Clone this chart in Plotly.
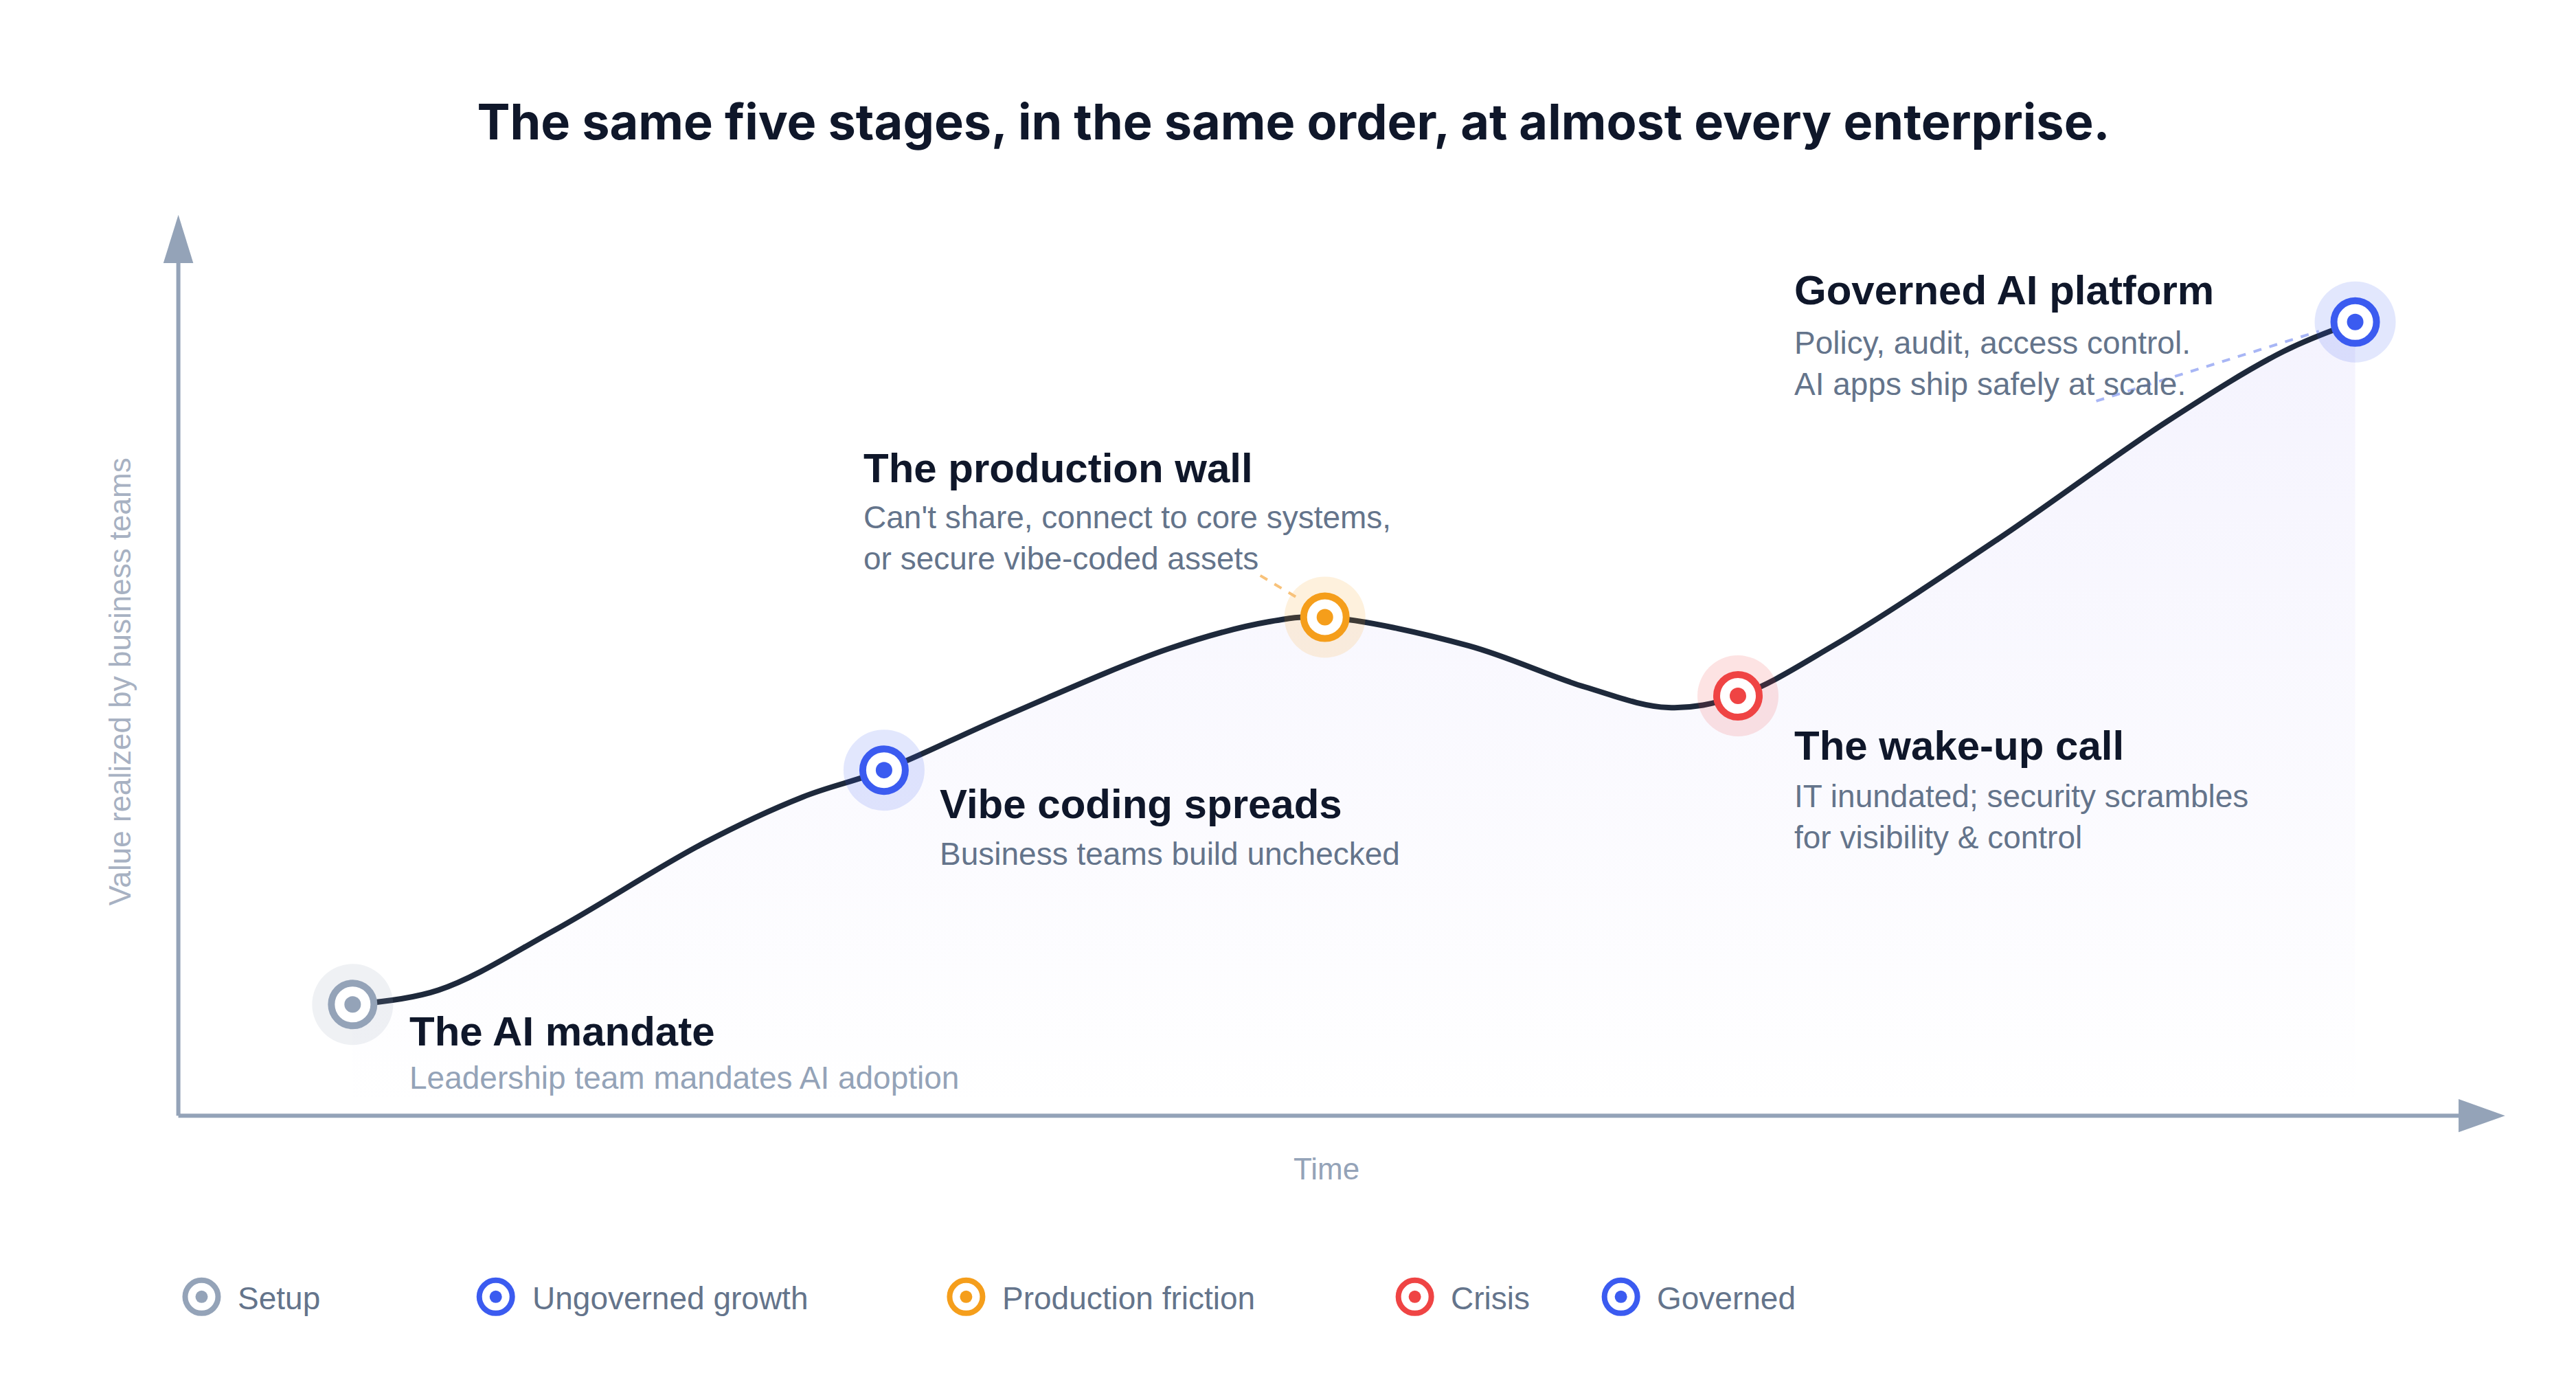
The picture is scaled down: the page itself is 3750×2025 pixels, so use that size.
import plotly.graph_objects as go

# ---- data ----
stage_names = ["The AI mandate", "Vibe coding spreads", "The production wall", "The wake-up call", "Governed AI platform"]
stage_desc = ["Leadership team mandates AI adoption", "Business teams build unchecked",
              "Can't share, connect to core systems,<br>or secure vibe-coded assets",
              "IT inundated; security scrambles<br>for visibility & control",
              "Policy, audit, access control.<br>AI apps ship safely at scale."]
stage_x = [7.5, 30.4, 49.4, 67.2, 93.8]
stage_y = [12.5, 38.7, 55.8, 47.0, 88.8]
stage_cat = ["Setup", "Ungoverned growth", "Production friction", "Crisis", "Governed"]
cat_colors = ["#94A3B8", "#3B5BF0", "#F59E1B", "#EF4444", "#3B5BF0"]
curve_x = [7.5, 11.2, 16.2, 22.6, 26.9, 30.4, 35.5, 42.7, 47.0, 49.4, 55.6, 60.6, 64.2, 67.2, 71.3, 78.5, 85.7, 90.7, 93.8]
curve_y = [12.5, 14.1, 20.8, 30.5, 35.7, 38.7, 44.6, 52.3, 55.3, 55.8, 52.6, 48.0, 45.7, 47.0, 52.6, 64.7, 77.7, 85.5, 88.8]

W, H = 3750, 2025
L, R, T, B = 252, 120, 315, 408

def halo(c, a):
    c = c.lstrip("#")
    return "rgba(%d,%d,%d,%s)" % (int(c[0:2], 16), int(c[2:4], 16), int(c[4:6], 16), a)

# display-pixel (1550-wide reference) -> data coordinate helper for layout placement
def px(X, Y):
    return ((X - 104) / 13.96, (668 - Y) / 5.38)

# display-pixel -> paper coordinates
def pp(X, Y):
    return ((X * 2.4194 - L) / (W - L - R), ((H - Y * 2.4194) - B) / (H - T - B))

fig = go.Figure()
fig.add_trace(go.Scatter(x=curve_x, y=curve_y, mode="lines", line=dict(color="#1E293B", width=8, shape="spline", smoothing=1.0),
                         fill="tozeroy",
                         fillgradient=dict(type="vertical", colorscale=[[0, "rgba(124,108,240,0.0)"], [1, "rgba(124,108,240,0.08)"]]),
                         hoverinfo="skip", showlegend=False))
fig.add_trace(go.Scatter(x=stage_x, y=stage_y, mode="markers",
                         marker=dict(size=118, color=[halo(c, 0.15) for c in cat_colors], line=dict(width=0)),
                         showlegend=False, hoverinfo="skip", cliponaxis=False))
fig.add_trace(go.Scatter(x=stage_x, y=stage_y, mode="markers",
                         marker=dict(size=62, color="white", line=dict(width=10, color=cat_colors)),
                         showlegend=False, cliponaxis=False, text=stage_names))
fig.add_trace(go.Scatter(x=stage_x, y=stage_y, mode="markers",
                         marker=dict(size=24, color=cat_colors, line=dict(width=0)),
                         showlegend=False, hoverinfo="skip", cliponaxis=False))

ann = []
shapes = []
leg_px = [118, 295, 578, 848, 972]
for X, name, col in zip(leg_px, stage_cat, cat_colors):
    cx, cy = pp(X, 777)
    shapes.append(dict(type="circle", xref="paper", yref="paper", xsizemode="pixel", ysizemode="pixel",
                       xanchor=cx, yanchor=cy, x0=-24, x1=24, y0=-24, y1=24,
                       fillcolor="white", line=dict(color=col, width=8)))
    shapes.append(dict(type="circle", xref="paper", yref="paper", xsizemode="pixel", ysizemode="pixel",
                       xanchor=cx, yanchor=cy, x0=-9, x1=9, y0=-9, y1=9,
                       fillcolor=col, line=dict(width=0)))
    x, y = pp(X + 21, 778)
    ann.append(dict(xref="paper", yref="paper", x=x, y=y, text=name, showarrow=False, xanchor="left", yanchor="middle",
                    font=dict(size=46, color="#64748B", family="Liberation Sans, Arial")))

title_pos = [(242, 617), (561, 480), (515, 278), (1075, 445), (1075, 171)]
desc_pos = [(242, 645), (561, 510), (515, 320), (1075, 488), (1075, 215)]
for i in range(5):
    x, y = px(*title_pos[i])
    ann.append(dict(x=x, y=y, text="<b>%s</b>" % stage_names[i], showarrow=False, xanchor="left", yanchor="middle",
                    font=dict(size=60, color="#0F172A", family="Liberation Sans, Arial")))
    x, y = px(*desc_pos[i])
    ann.append(dict(x=x, y=y, text=stage_desc[i], showarrow=False, xanchor="left", yanchor="middle", align="left",
                    font=dict(size=46, color="#94A3B8" if i == 0 else "#64748B", family="Liberation Sans, Arial")))

x, y = pp(795, 711)
ann.append(dict(xref="paper", yref="paper", x=x, y=y, text="Time", showarrow=False,
                font=dict(size=44, color="#94A3B8", family="Liberation Sans, Arial")))
x, y = pp(58, 407)
ann.append(dict(xref="paper", yref="paper", x=x, y=y, text="Value realized by business teams", showarrow=False, textangle=-90,
                font=dict(size=44, color="#A7B1C2", family="Liberation Sans, Arial")))

def pline(p0, p1, color, width, dash="solid"):
    return dict(type="line", xref="paper", yref="paper", x0=p0[0], y0=p0[1], x1=p1[0], y1=p1[1],
                line=dict(color=color, width=width, dash=dash))

def ptri(a, b, c):
    return dict(type="path", xref="paper", yref="paper",
                path="M %f %f L %f %f L %f %f Z" % (a + b + c), fillcolor="#94A3B8", line=dict(width=0))

shapes.append(pline(pp(104, 668), pp(1480, 668), "#94A3B8", 6))
shapes.append(pline(pp(104, 668), pp(104, 150), "#94A3B8", 6))
shapes.append(ptri(pp(1504, 668), pp(1476, 658), pp(1476, 678)))
shapes.append(ptri(pp(104, 126), pp(95, 155), pp(113, 155)))
shapes.append(pline(pp(755, 343), pp(780, 358), "#F8C27A", 4, "dash"))
shapes.append(pline(pp(1258, 238), pp(1392, 196), "#A8B6F5", 4, "dash"))

fig.update_layout(
    width=W, height=H, paper_bgcolor="white", plot_bgcolor="white",
    margin=dict(l=L, r=R, t=T, b=B),
    title=dict(text="<b>The same five stages, in the same order, at almost every enterprise.</b>", x=0.5, xanchor="center",
               y=1 - 70 * 2.4194 / H, yanchor="middle", font=dict(size=72, color="#0F172A", family="Inter, Liberation Sans")),
    xaxis=dict(range=[0, 100], visible=False, fixedrange=True),
    yaxis=dict(range=[0, 100], visible=False, fixedrange=True),
    annotations=ann, shapes=shapes, showlegend=False,
)
fig.write_html("out.html")
